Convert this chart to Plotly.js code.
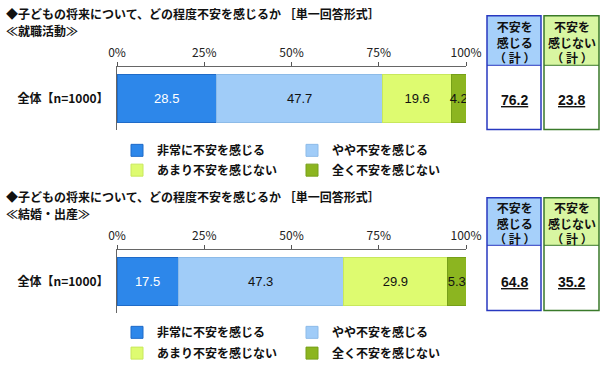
<!DOCTYPE html>
<html>
<head>
<meta charset="utf-8">
<script src="https://cdn.plot.ly/plotly-3.0.1.min.js"></script>
<style>html,body{margin:0;padding:0;background:#fff;}#chart{width:600px;height:368px;}</style>
</head>
<body>
<div id="chart"></div>
<script>
// ---- data ----
const titleText = '◆子どもの将来について、どの程度不安を感じるか ［単一回答形式］';
const panelNames = ['≪就職活動≫', '≪結婚・出産≫'];
const category = ['全体【n=1000】'];
const seriesNames = ['非常に不安を感じる', 'やや不安を感じる', 'あまり不安を感じない', '全く不安を感じない'];
const jobValues = [28.5, 47.7, 19.6, 4.2];
const marriageValues = [17.5, 47.3, 29.9, 5.3];
const anxiousTotal = [76.2, 64.8];
const notAnxiousTotal = [23.8, 35.2];
const tickVals = [0, 25, 50, 75, 100];
const tickText = ['0%', '25%', '50%', '75%', '100%'];
const boxHeaders = ['不安を<br>感じる<br>（ 計 ）', '不安を<br>感じない<br>（ 計 ）'];

// ---- style ----
const W = 600, H = 368;
const colors = ['#2D87EA', '#A0CCF8', '#DEFB70', '#8CB520'];
const lineColors = ['#1F6BC8', '#8DBBE8', '#C8E85C', '#76A018'];
const textColors = ['#ffffff', '#111111', '#111111', '#111111'];
const jp = '"Noto Sans CJK JP", "Noto Sans", sans-serif';
const px = v => v / W;
const py = v => 1 - v / H;

const panels = [
  {values: jobValues, xa: 'x', ya: 'y', top: 68, bottom: 131, titleY: 14, subY: 31,
   legRows: [152, 172], boxTop: 16, headBottom: 66, boxBottom: 131, valY: 101},
  {values: marriageValues, xa: 'x2', ya: 'y2', top: 253, bottom: 316, titleY: 199, subY: 216,
   legRows: [336, 357], boxTop: 200, headBottom: 248, boxBottom: 314, valY: 285}
];

const data = [];
const layout = {
  width: W, height: H,
  margin: {l: 0, r: 0, t: 0, b: 0},
  paper_bgcolor: '#ffffff', plot_bgcolor: '#ffffff',
  barmode: 'stack',
  showlegend: true,
  font: {family: jp, size: 12, color: '#111'},
  annotations: [], shapes: []
};

const legendCols = [px(157 - 40), px(332 - 40)];
let legIdx = 0;

panels.forEach((p, pi) => {
  const suffix = pi === 0 ? '' : '2';
  p.values.forEach((v, si) => {
    legIdx += 1;
    const legName = legIdx === 1 ? 'legend' : 'legend' + legIdx;
    data.push({
      type: 'bar', orientation: 'h',
      x: [v], y: category,
      name: seriesNames[si],
      xaxis: p.xa, yaxis: p.ya,
      width: 0.78,
      marker: {color: colors[si], line: {color: lineColors[si], width: 1}},
      text: [v.toFixed(1)],
      textposition: 'inside',
      insidetextanchor: 'middle',
      textangle: 0,
      constraintext: 'none',
      textfont: {family: '"Liberation Sans", Arial, sans-serif', size: 13, color: textColors[si]},
      hoverinfo: 'skip',
      showlegend: true,
      legend: legName
    });
    layout[legName] = {
      x: legendCols[si % 2], xanchor: 'left',
      y: py(p.legRows[Math.floor(si / 2)]), yanchor: 'middle',
      orientation: 'h', bgcolor: 'rgba(0,0,0,0)', borderwidth: 0,
      font: {family: jp, size: 12, color: '#111', weight: 'bold'},
      itemclick: false, itemdoubleclick: false, visible: true
    };
  });

  layout['xaxis' + suffix] = {
    domain: [px(117), px(466)], anchor: 'y' + suffix, side: 'top',
    range: [0, 100], tickmode: 'array', tickvals: tickVals, ticktext: tickText,
    ticks: 'outside', ticklen: 4, tickcolor: '#555', showline: true, linecolor: '#666', linewidth: 1,
    showgrid: false, zeroline: false, fixedrange: true,
    tickfont: {family: jp, size: 12, color: '#222'}
  };
  layout['yaxis' + suffix] = {
    domain: [py(p.bottom), py(p.top)], anchor: 'x' + suffix,
    type: 'category', range: [-0.5, 0.5],
    showline: true, linecolor: '#666', linewidth: 1, showgrid: false, zeroline: false,
    ticks: '', ticklabelstandoff: 5, fixedrange: true,
    tickfont: {family: jp, size: 12, color: '#111', weight: 'bold'}
  };

  // titles
  layout.annotations.push({
    xref: 'paper', yref: 'paper', x: px(4), y: py(p.titleY), xanchor: 'left', yanchor: 'middle',
    text: titleText, showarrow: false, font: {family: jp, size: 12, color: '#111', weight: 'bold'}
  });
  layout.annotations.push({
    xref: 'paper', yref: 'paper', x: px(4), y: py(p.subY), xanchor: 'left', yanchor: 'middle',
    text: panelNames[pi], showarrow: false, font: {family: jp, size: 12, color: '#111', weight: 'bold'}
  });

  // summary boxes
  const boxes = [
    {x0: 487, x1: 541, head: '#A6D0FA', border: '#2838C0', val: anxiousTotal[pi]},
    {x0: 544, x1: 599, head: '#D8F6A2', border: '#3A7A2A', val: notAnxiousTotal[pi]}
  ];
  boxes.forEach((b, bi) => {
    layout.shapes.push({type: 'rect', xref: 'paper', yref: 'paper',
      x0: px(b.x0), x1: px(b.x1), y0: py(p.headBottom), y1: py(p.boxTop),
      fillcolor: b.head, line: {width: 0}});
    layout.shapes.push({type: 'line', xref: 'paper', yref: 'paper',
      x0: px(b.x0), x1: px(b.x1), y0: py(p.headBottom), y1: py(p.headBottom),
      line: {color: b.border, width: 1}});
    layout.shapes.push({type: 'rect', xref: 'paper', yref: 'paper',
      x0: px(b.x0), x1: px(b.x1), y0: py(p.boxBottom), y1: py(p.boxTop),
      fillcolor: 'rgba(0,0,0,0)', line: {color: b.border, width: 1.5}});
    layout.annotations.push({
      xref: 'paper', yref: 'paper', x: px((b.x0 + b.x1) / 2), y: py((p.boxTop + p.headBottom) / 2 + 1),
      xanchor: 'center', yanchor: 'middle', showarrow: false, text: boxHeaders[bi],
      font: {family: jp, size: 12, color: '#111', weight: 'bold'}
    });
    layout.annotations.push({
      xref: 'paper', yref: 'paper', x: px((b.x0 + b.x1) / 2), y: py(p.valY),
      xanchor: 'center', yanchor: 'middle', showarrow: false, text: '<u>' + b.val.toFixed(1) + '</u>',
      font: {family: '"Liberation Sans", Arial, sans-serif', size: 14, color: '#111', weight: 'bold'}
    });
  });
});

Plotly.newPlot('chart', data, layout, {displayModeBar: false, staticPlot: true});
</script>
</body>
</html>
